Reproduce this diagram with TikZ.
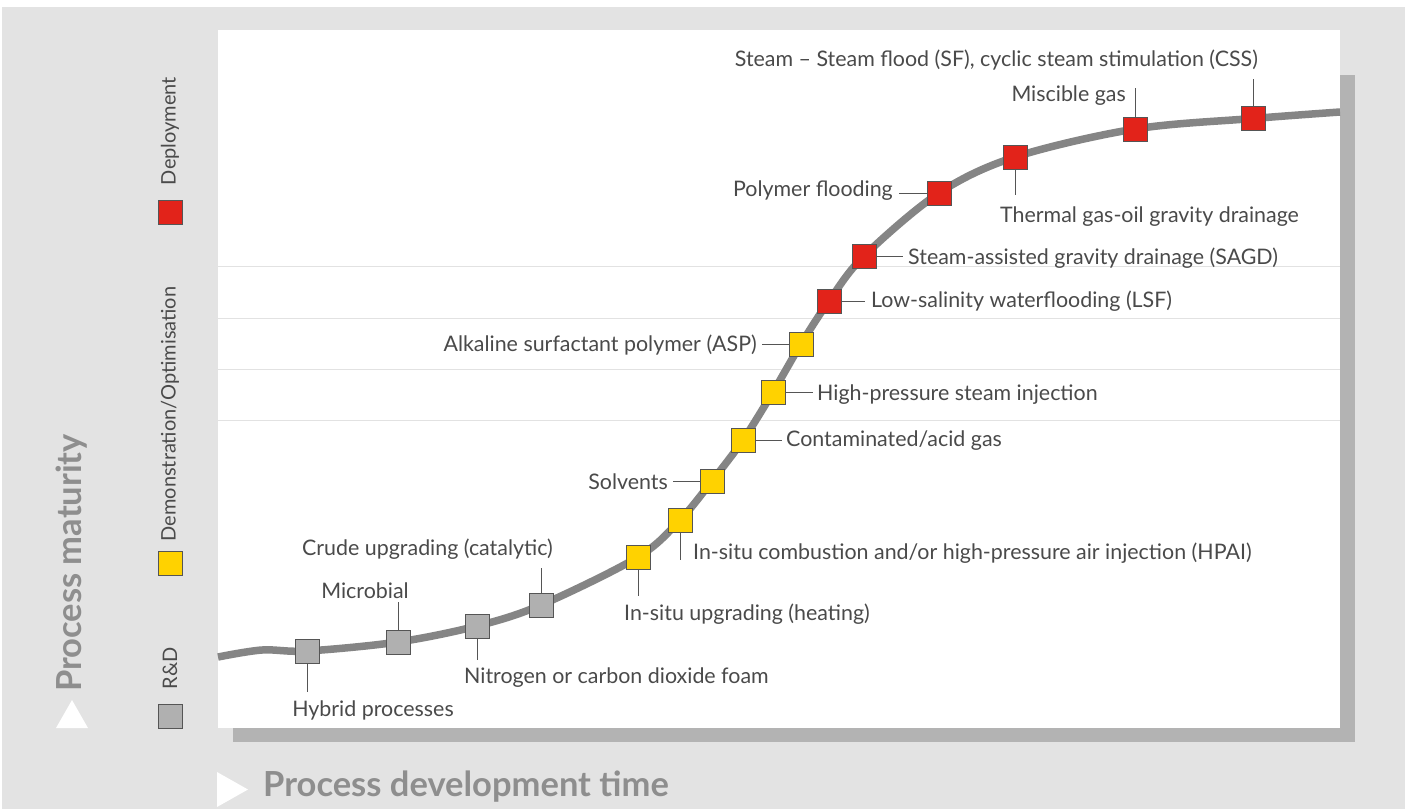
\documentclass[tikz,border=0pt]{standalone}
\usepackage{fontspec}
\setmainfont{Lato}
\begin{document}
\begin{tikzpicture}[x=1pt,y=-1pt,
  lbl/.style={inner sep=0pt,text=txtc,yshift=-2.5pt,font=\fontsize{21.4}{23}\selectfont},
  sq/.style={draw=sqborder,line width=1pt,minimum size=24pt,inner sep=0pt},
  rd/.style={sq,fill=rdc},
  dm/.style={sq,fill=dmc},
  dp/.style={sq,fill=dpc},
  leader/.style={draw=sqborder,line width=1pt},
  legtxt/.style={inner sep=0pt,text=txtc,rotate=90,font=\fontsize{20}{22}\selectfont},
  axtxt/.style={inner sep=0pt,text=axc,font=\fontsize{34.5}{36}\selectfont\bfseries}]
\definecolor{bgc}{HTML}{E3E3E3}
\definecolor{shc}{HTML}{B3B3B3}
\definecolor{gridc}{HTML}{E2E2E2}
\definecolor{curvec}{HTML}{858585}
\definecolor{sqborder}{HTML}{555555}
\definecolor{txtc}{HTML}{4A4A4A}
\definecolor{axc}{HTML}{8E8E8E}
\definecolor{rdc}{HTML}{B0B0B0}
\definecolor{dmc}{HTML}{FFD200}
\definecolor{dpc}{HTML}{E2231A}
\useasboundingbox (0,0) rectangle (1405,809);
\fill[white] (0,0) rectangle (1405,809);
\fill[bgc] (2,7) rectangle (1405,809);
% shadow
\fill[shc] (233,75) rectangle (1355,742);
% panel
\fill[white] (218,30) rectangle (1340,728);
% grid lines
\foreach \yy in {266,318,369,420}
  \draw[gridc,line width=1pt] (218,\yy) -- (1340,\yy);
% curve
\draw[curvec,line width=7.5pt] plot[smooth,tension=0.55] coordinates {
 (218,657) (262,650) (307,651) (398,642) (477,626) (541,605) (638,557)
 (680,520) (712,481) (743,440) (773,392) (801,344) (829,301) (864,256)
 (939,193) (1015,157) (1135,129) (1253,118.5) (1340,112)};
% squares
\node[rd] (s1) at (307,651) {};
\node[rd] (s2) at (398,642) {};
\node[rd] (s3) at (477,626) {};
\node[rd] (s4) at (541,605) {};
\node[dm] (s5) at (638,557) {};
\node[dm] (s6) at (680,520) {};
\node[dm] (s7) at (712,481) {};
\node[dm] (s8) at (743,440) {};
\node[dm] (s9) at (773,392) {};
\node[dm] (s10) at (801,344) {};
\node[dp] (s11) at (829,301) {};
\node[dp] (s12) at (864,256) {};
\node[dp] (s13) at (939,193) {};
\node[dp] (s14) at (1015,157) {};
\node[dp] (s15) at (1135,129) {};
\node[dp] (s16) at (1253,118.5) {};
% leader ends
\coordinate (c1) at (307,692);
\coordinate (c2) at (398,602);
\coordinate (c3) at (477,660);
\coordinate (c4) at (541,568);
\coordinate (c5) at (638,596);
\coordinate (c6) at (680,560);
\coordinate (c7) at (673,481);
\coordinate (c8) at (782,440);
\coordinate (c9) at (813,392);
\coordinate (c10) at (762,344);
\coordinate (c11) at (865,301);
\coordinate (c12) at (903,256);
\coordinate (c13) at (899,193);
\coordinate (c14) at (1015,195);
\coordinate (c15) at (1135,88);
\coordinate (c16) at (1253,79);
\draw[leader] (s1.south) -- (c1);
\draw[leader] (s2.north) -- (c2);
\draw[leader] (s3.south) -- (c3);
\draw[leader] (s4.north) -- (c4);
\draw[leader] (s5.south) -- (c5);
\draw[leader] (s6.south) -- (c6);
\draw[leader] (s7.west) -- (c7);
\draw[leader] (s8.east) -- (c8);
\draw[leader] (s9.east) -- (c9);
\draw[leader] (s10.west) -- (c10);
\draw[leader] (s11.east) -- (c11);
\draw[leader] (s12.east) -- (c12);
\draw[leader] (s13.west) -- (c13);
\draw[leader] (s14.south) -- (c14);
\draw[leader] (s15.north) -- (c15);
\draw[leader] (s16.north) -- (c16);
% labels
\node[lbl] (l1) at (373,708) {Hybrid processes};
\node[lbl] (l2) at (365,588) {Microbial};
\node[lbl,anchor=west] (l3) at (464,675) {Nitrogen or carbon dioxide foam};
\node[lbl,anchor=east] (l4) at (553,547) {Crude upgrading (catalytic)};
\node[lbl,anchor=west] (l5) at (624,612) {In-situ upgrading (heating)};
\node[lbl,anchor=west] (l6) at (693,551) {In-situ combustion and/or high-pressure air injection (HPAI)};
\node[lbl,anchor=east] (l7) at (668,479) {Solvents};
\node[lbl,anchor=west] (l8) at (786,438) {Contaminated/acid gas};
\node[lbl,anchor=west] (l9) at (817,392) {High-pressure steam injection};
\node[lbl,anchor=east] (l10) at (757,343) {Alkaline surfactant polymer (ASP)};
\node[lbl,anchor=west] (l11) at (871,299) {Low-salinity waterflooding (LSF)};
\node[lbl,anchor=west] (l12) at (908,256) {Steam-assisted gravity drainage (SAGD)};
\node[lbl,anchor=east] (l13) at (893,188) {Polymer flooding};
\node[lbl,anchor=west] (l14) at (1000,214) {Thermal gas-oil gravity drainage};
\node[lbl,anchor=east] (l15) at (1126,93) {Miscible gas};
\node[lbl,anchor=east] (l16) at (1258,58) {Steam -- Steam flood (SF), cyclic steam stimulation (CSS)};
% legend
\node[dp] (k1) at (170,212) {};
\node[dm] (k2) at (170,563) {};
\node[rd] (k3) at (170,716) {};
\node[legtxt] (t1) at (170,131) {Deployment};
\node[legtxt] (t2) at (170,414) {Demonstration/Optimisation};
\node[legtxt] (t3) at (170,668) {R\&D};
% axes
\node[axtxt,rotate=90] (ay) at (72,563) {Process maturity};
\fill[white] (56,728) -- (88,728) -- (72,700) -- cycle;
\node[axtxt,anchor=west] (ax) at (263,787) {Process development time};
\fill[white] (217,772) -- (217,807) -- (248,789.5) -- cycle;
\end{tikzpicture}
\end{document}
